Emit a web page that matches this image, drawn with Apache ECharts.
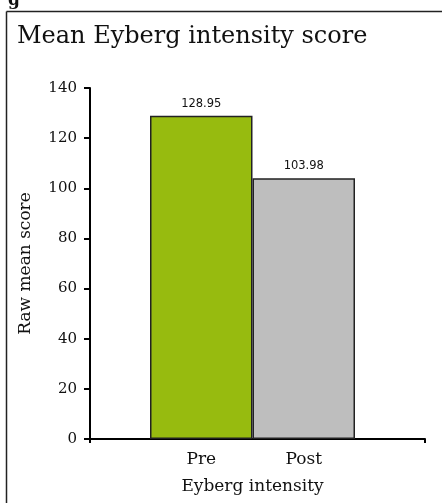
<!DOCTYPE html>
<html><head><meta charset="utf-8">
<script src="https://cdn.jsdelivr.net/npm/echarts@6/dist/echarts.min.js"></script>
<style>html,body{margin:0;padding:0;background:#fff}#c{width:442px;height:503px}</style>
</head><body><div id="c"></div>
<script>
const categories = ['Pre', 'Post'];
const values = [128.95, 103.98];
const barColors = ['#97bb0f', '#bebebe'];
const yTicks = [0, 20, 40, 60, 80, 100, 120, 140];

const SERIF = '"DejaVu Serif", "Liberation Serif", serif';
const chart = echarts.init(document.getElementById('c'), null, {renderer: 'canvas'});
const gTop = 88, gBottom = 64;
chart.setOption({
  animation: false,
  backgroundColor: '#fff',
  title: {
    text: 'Mean Eyberg intensity score',
    left: 17, top: 25, padding: 0,
    textStyle: {fontFamily: SERIF, fontSize: 24, fontWeight: 'normal', color: '#111'}
  },
  graphic: [
    {type: 'line', shape: {x1: 6.5, y1: 11.5, x2: 442, y2: 11.5}, style: {stroke: '#222', lineWidth: 1.5}},
    {type: 'line', shape: {x1: 6.5, y1: 11.5, x2: 6.5, y2: 503}, style: {stroke: '#222', lineWidth: 1.5}},
    {type: 'text', left: 8, top: -8, style: {text: 'g', font: 'bold 17px ' + SERIF, fill: '#111'}}
  ],
  grid: [
    {left: 150, right: 87, top: gTop, bottom: gBottom},
    {left: 90, right: 17, top: gTop, bottom: gBottom}
  ],
  xAxis: [
    {
      type: 'category', gridIndex: 0, data: categories,
      axisLine: {show: false}, axisTick: {show: false},
      axisLabel: {margin: 12, fontFamily: SERIF, fontSize: 17, color: '#111'},
      name: 'Eyberg intensity', nameLocation: 'middle', nameGap: 39,
      nameTextStyle: {fontFamily: SERIF, fontSize: 17, color: '#111'}
    },
    {
      type: 'value', gridIndex: 1, min: 0, max: 1, interval: 1,
      axisLine: {show: true, lineStyle: {color: '#000', width: 2}},
      axisTick: {show: true, length: 4, lineStyle: {color: '#000', width: 2}},
      axisLabel: {show: false}, splitLine: {show: false}
    }
  ],
  yAxis: [
    {type: 'value', gridIndex: 0, min: 0, max: 140, interval: 20, show: false},
    {
      type: 'value', gridIndex: 1, min: 0, max: 140, interval: 20,
      axisLine: {show: true, lineStyle: {color: '#000', width: 2}},
      axisTick: {show: true, length: 6, lineStyle: {color: '#000', width: 2}},
      axisLabel: {margin: 13, fontFamily: SERIF, fontSize: 15, color: '#111',
        formatter: v => yTicks.includes(v) ? String(v) : ''},
      splitLine: {show: false},
      name: 'Raw mean score', nameLocation: 'middle', nameGap: 56, nameRotate: 90,
      nameTextStyle: {fontFamily: SERIF, fontSize: 17, color: '#111'}
    }
  ],
  series: [{
    type: 'bar', xAxisIndex: 0, yAxisIndex: 0,
    barCategoryGap: '0%',
    data: values.map((v, i) => ({value: v, itemStyle: {color: barColors[i]}})),
    itemStyle: {borderColor: '#222', borderWidth: 1.5},
    label: {show: true, position: 'top', distance: 6,
      fontFamily: '"DejaVu Sans", Verdana, sans-serif', fontSize: 11.5, color: '#111',
      formatter: p => p.value.toFixed(2)}
  }]
});
</script></body></html>
